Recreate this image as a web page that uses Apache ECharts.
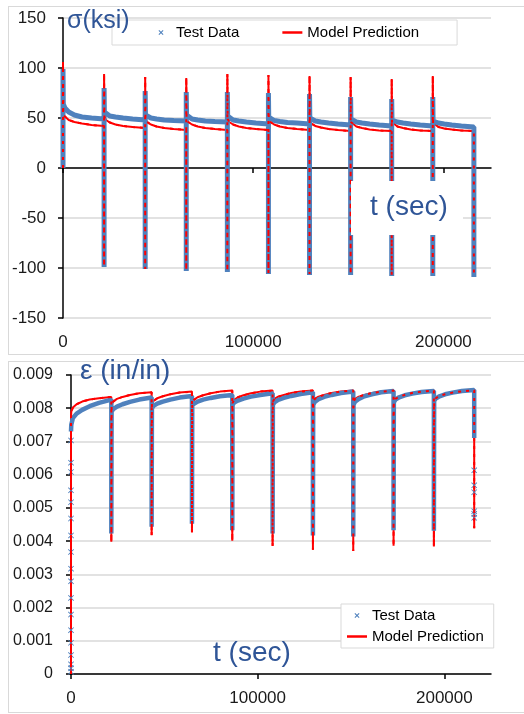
<!DOCTYPE html>
<html>
<head>
<meta charset="utf-8">
<script src="https://cdn.jsdelivr.net/npm/echarts@6.0.0/dist/echarts.min.js"></script>
<style>
  html, body { margin: 0; padding: 0; background: #fff; }
  .frame { position: absolute; border: 1px solid #d9d9d9; }
  #chart { position: absolute; left: 0; top: 0; width: 524px; height: 714px; }
</style>
</head>
<body>
<div class="frame" style="left:8px; top:6px; width:530px; height:347px;"></div>
<div class="frame" style="left:8px; top:361px; width:530px; height:350px;"></div>
<div id="chart"></div>
<script>
// 循环时间点 (sec)，每 6 小时一个循环
const cycleTimes = [0, 21600, 43200, 64800, 86400, 108000, 129600, 151200, 172800, 194400, 216000]
// 每个保载段内读取的时间偏移 (sec)
const holdOffsets = [150, 1000, 3000, 6000, 10000, 15000, 21600]
const xTicks = [0, 100000, 200000]

// 应力 σ (ksi)
const stressModelPeak = [106, 94, 91, 90, 94, 93, 92, 91, 89, 92]
const stressModelMin = [-98, -101, -102, -103, -105, -106, -106, -107, -107, -108]
const stressModelHold = [
  [53, 51, 48, 46, 44.5, 43, 42],
  [51, 48, 45.5, 43.5, 42, 41, 40],
  [49, 46, 43.5, 41.5, 40, 39, 38],
  [49, 46, 43.5, 41.5, 40, 39, 38],
  [49, 46, 43.5, 41.5, 40, 39, 38],
  [49, 46, 43.5, 41.5, 40, 39, 38],
  [47, 44.5, 42, 40.5, 39, 38, 37],
  [46, 44, 41.5, 40, 38.5, 37.5, 37],
  [46, 44, 41.5, 40, 38.5, 37.5, 37],
  [45, 43, 41, 39.5, 38.5, 37.5, 37]
]
const stressTestPeak = [99, 80, 77, 76, 76, 75, 74, 71, 69, 71]
const stressTestMin = [-99, -101, -103, -104, -106, -107, -107, -108, -108, -109]
const stressTestHold = [
  [64, 60, 56, 53, 51, 50, 49],
  [56, 54, 52, 51, 50, 49, 48],
  [53, 52, 50, 49, 48, 47.5, 47],
  [53, 51, 49, 48, 47, 46.5, 46],
  [52, 50, 48, 47, 46, 45, 44],
  [51, 49, 47.5, 46.5, 45.5, 45, 44],
  [50, 48.5, 47, 46, 45, 44, 43],
  [49, 47, 46, 45, 44, 43, 42],
  [48, 47, 46, 45, 44, 43, 42],
  [47, 46, 45, 44, 43, 42, 41]
]

// 应变 ε (in/in)
const strainModelLoadTop = 0.0077
const strainModelMin = [0.00398, 0.00418, 0.00426, 0.00401, 0.00385, 0.00374, 0.0037, 0.00386, 0.00384, 0.00439]
const strainModelHold = [
  [0.0079, 0.00802, 0.00812, 0.0082, 0.00826, 0.0083, 0.00834],
  [0.00812, 0.0082, 0.00828, 0.00834, 0.0084, 0.00845, 0.00848],
  [0.00813, 0.00822, 0.0083, 0.00836, 0.00842, 0.00847, 0.0085],
  [0.00816, 0.00825, 0.00833, 0.00839, 0.00845, 0.0085, 0.00853],
  [0.00816, 0.00825, 0.00833, 0.00839, 0.00845, 0.0085, 0.00853],
  [0.0082, 0.00828, 0.00835, 0.0084, 0.00846, 0.0085, 0.00853],
  [0.0082, 0.00828, 0.00835, 0.0084, 0.00846, 0.0085, 0.00853],
  [0.0082, 0.00828, 0.00835, 0.0084, 0.00846, 0.0085, 0.00853],
  [0.0082, 0.00828, 0.00835, 0.0084, 0.00846, 0.0085, 0.00853],
  [0.00822, 0.0083, 0.00837, 0.00842, 0.00847, 0.00851, 0.00854]
]
const strainTestLoadTop = 0.0073
const strainTestEnd = 0.0071
const strainTestMin = [0.00423, 0.00443, 0.00452, 0.00433, 0.00423, 0.00417, 0.00414, 0.00433, 0.00431]
const strainTestHold = [
  [0.0075, 0.0077, 0.00784, 0.00795, 0.00806, 0.00816, 0.00826],
  [0.0079, 0.00797, 0.00805, 0.00812, 0.00819, 0.00826, 0.00832],
  [0.008, 0.00807, 0.00814, 0.0082, 0.00826, 0.00832, 0.00837],
  [0.0081, 0.00815, 0.0082, 0.00826, 0.00831, 0.00836, 0.0084],
  [0.0081, 0.00817, 0.00823, 0.00829, 0.00835, 0.0084, 0.00845],
  [0.0081, 0.00818, 0.00825, 0.00831, 0.00837, 0.00843, 0.00848],
  [0.0081, 0.00819, 0.00827, 0.00834, 0.0084, 0.00846, 0.0085],
  [0.0081, 0.0082, 0.00828, 0.00836, 0.00842, 0.00848, 0.00852],
  [0.00818, 0.00826, 0.00833, 0.00839, 0.00844, 0.00849, 0.00852],
  [0.00822, 0.00829, 0.00836, 0.00842, 0.00847, 0.00852, 0.00855]
]
// 加载/卸载时采样稀疏的测试点
const strainTestLoadPts = [0.00007, 0.00017, 0.00029, 0.00057, 0.00094, 0.00132, 0.00179, 0.00229, 0.00279,
  0.00317, 0.00367, 0.00417, 0.00468, 0.00517, 0.00553, 0.00608, 0.00636, 0.00703]
const strainTestUnloadPts = [0.0047, 0.00482, 0.0049, 0.00547, 0.00568, 0.00613]

const BLUE = '#4F81BD'
const RED = '#FF0000'
const TITLE = '#2F5597'
const FONT = 'Liberation Sans'
const CROSS = 'path://M0,1L1,0L5,4L9,0L10,1L6,5L10,9L9,10L5,6L1,10L0,9L4,5Z'
const CROSS_ICON = 'path://M0,0M40,28M15,10.5L16.5,9L20,12.5L23.5,9L25,10.5L21.5,14L25,17.5L23.5,19L20,15.5L16.5,19L15,17.5L18.5,14Z'
const LINE_ICON = 'path://M0,0M40,28M0,11.5L40,11.5L40,16.5L0,16.5Z'

// 应力曲线：从 0 加载到峰值，保载松弛，压缩到最小再回到峰值
function stressPath (peak, mins, hold) {
  const pts = [[0, 0]]
  for (let k = 0; k < 10; k++) {
    const t = cycleTimes[k]
    if (k > 0) pts.push([t, mins[k - 1]])
    pts.push([t, peak[k]])
    holdOffsets.forEach((o, i) => pts.push([t + o, hold[k][i]]))
  }
  pts.push([cycleTimes[10], mins[9]])
  return pts
}

// 应变曲线：保载蠕变，循环时下降到最小
function strainPath (start, mins, hold, end) {
  const pts = [[0, start]]
  for (let k = 0; k < 10; k++) {
    const t = cycleTimes[k]
    if (k > 0) pts.push([t, mins[k - 1]])
    holdOffsets.forEach((o, i) => pts.push([t + o, hold[k][i]]))
  }
  pts.push([cycleTimes[10], end])
  return pts
}

const stressModel = stressPath(stressModelPeak, stressModelMin, stressModelHold)
const stressTest = stressPath(stressTestPeak, stressTestMin, stressTestHold)
const strainModel = [[0, 0]].concat(strainPath(strainModelLoadTop, strainModelMin, strainModelHold, strainModelMin[9]))
const strainTest = strainPath(strainTestLoadTop, strainTestMin, strainTestHold, strainTestEnd)
const strainTestSparse = strainTestLoadPts.map(v => [0, v])
  .concat(strainTestUnloadPts.map(v => [cycleTimes[10], v]))

const chart = echarts.init(document.getElementById('chart'))

const labelStyle = { color: '#1a1a1a', fontFamily: FONT }
const axisLineStyle = { color: '#000', width: 1.5 }
const plainNum = v => String(v)
const legendData = [
  { name: 'Test Data', icon: CROSS_ICON, itemStyle: { color: BLUE, borderWidth: 0 } },
  { name: 'Model Prediction', icon: LINE_ICON, itemStyle: { color: RED, borderWidth: 0 } }
]

const option = {
  animation: false,
  textStyle: { fontFamily: FONT },
  grid: [
    { left: 63, top: 18, width: 428, height: 300, outerBoundsMode: 'none' },
    { left: 71, top: 375, width: 420, height: 299, outerBoundsMode: 'none' }
  ],
  xAxis: [
    { // 上图底部标签
      type: 'value', gridIndex: 0, min: 0, max: 225000, position: 'bottom',
      axisLine: { show: false, onZero: false },
      axisTick: { show: false },
      splitLine: { show: false },
      axisLabel: { ...labelStyle, fontSize: 17, margin: 16, customValues: xTicks, formatter: plainNum }
    },
    { // 上图 y=0 处的轴线
      type: 'value', gridIndex: 0, min: 0, max: 225000, position: 'bottom',
      axisLine: { show: true, onZero: true, lineStyle: axisLineStyle },
      axisTick: { show: true, length: 5, lineStyle: axisLineStyle, customValues: xTicks },
      splitLine: { show: false },
      axisLabel: { show: false }
    },
    {
      type: 'value', gridIndex: 1, min: 0, max: 225000, position: 'bottom',
      axisLine: { show: true, lineStyle: axisLineStyle },
      axisTick: { show: true, length: 5, lineStyle: axisLineStyle, customValues: xTicks },
      splitLine: { show: false },
      axisLabel: { ...labelStyle, fontSize: 17, margin: 16, customValues: xTicks, formatter: plainNum }
    }
  ],
  yAxis: [
    {
      type: 'value', gridIndex: 0, min: -150, max: 150, interval: 50,
      axisLine: { show: true, lineStyle: axisLineStyle },
      axisTick: { show: true, length: 5, lineStyle: axisLineStyle },
      splitLine: { lineStyle: { color: '#d9d9d9', width: 1.5 } },
      axisLabel: { ...labelStyle, fontSize: 17, margin: 17 }
    },
    {
      type: 'value', gridIndex: 1, min: 0, max: 0.009, interval: 0.001,
      axisLine: { show: true, lineStyle: axisLineStyle },
      axisTick: { show: true, length: 5, lineStyle: axisLineStyle },
      splitLine: { lineStyle: { color: '#d9d9d9', width: 1.5 } },
      axisLabel: { ...labelStyle, fontSize: 16, margin: 18, formatter: v => (v === 0 ? '0' : v.toFixed(3)) }
    }
  ],
  legend: [
    {
      data: legendData, selectedMode: false, orient: 'horizontal',
      left: 112, top: 20, itemWidth: 20, itemHeight: 14, itemGap: 43,
      padding: [5, 38, 5, 39], borderColor: '#d9d9d9', borderWidth: 1, backgroundColor: '#fff',
      textStyle: { fontSize: 15, color: '#000', fontFamily: FONT }
    },
    {
      data: legendData, selectedMode: false, orient: 'vertical',
      left: 341, top: 604, itemWidth: 20, itemHeight: 14, itemGap: 6,
      padding: [4, 10, 4, 6], borderColor: '#d9d9d9', borderWidth: 1, backgroundColor: '#fff',
      textStyle: { fontSize: 15, color: '#000', fontFamily: FONT }
    }
  ],
  series: [
    { // 上图：模型
      name: 'Model Prediction', type: 'line', xAxisIndex: 0, yAxisIndex: 0,
      data: stressModel, symbol: 'none', z: 2,
      lineStyle: { color: RED, width: 2, join: 'bevel' }, itemStyle: { color: RED }
    },
    { // 上图：测试
      name: 'Test Data', type: 'line', xAxisIndex: 0, yAxisIndex: 0,
      data: stressTest, symbol: 'none', z: 3,
      lineStyle: { color: BLUE, width: 5, join: 'bevel' }, itemStyle: { color: BLUE }
    },
    { // 上图：模型线透过测试点的虚线效果
      name: 'Model Prediction', type: 'line', xAxisIndex: 0, yAxisIndex: 0,
      data: stressModel, symbol: 'none', z: 4, silent: true,
      lineStyle: { color: RED, width: 2, type: [3, 5], join: 'bevel' }, itemStyle: { color: RED }
    },
    { // 下图：模型
      name: 'Model Prediction', type: 'line', xAxisIndex: 2, yAxisIndex: 1,
      data: strainModel, symbol: 'none', z: 2,
      lineStyle: { color: RED, width: 2, join: 'bevel' }, itemStyle: { color: RED }
    },
    { // 下图：测试
      name: 'Test Data', type: 'line', xAxisIndex: 2, yAxisIndex: 1,
      data: strainTest, symbol: 'none', z: 3,
      lineStyle: { color: BLUE, width: 4.5, join: 'bevel' }, itemStyle: { color: BLUE }
    },
    { // 下图：稀疏测试点
      name: 'Test Data', type: 'scatter', xAxisIndex: 2, yAxisIndex: 1,
      data: strainTestSparse, symbol: CROSS, symbolSize: 6, z: 3,
      itemStyle: { color: BLUE, opacity: 1 }
    },
    {
      name: 'Model Prediction', type: 'line', xAxisIndex: 2, yAxisIndex: 1,
      data: strainModel, symbol: 'none', z: 4, silent: true,
      lineStyle: { color: RED, width: 2, type: [3, 5], join: 'bevel' }, itemStyle: { color: RED }
    }
  ],
  graphic: [
    {
      type: 'text', z: 100, left: 67, top: 9,
      style: { text: 'σ(ksi)', fontSize: 25, fill: TITLE, fontFamily: FONT }
    },
    {
      type: 'rect', z: 99, shape: { x: 351, y: 181, width: 112, height: 54 },
      style: { fill: '#fff' }
    },
    {
      type: 'text', z: 100, left: 370, top: 193,
      style: { text: 't (sec)', fontSize: 28, fill: TITLE, fontFamily: FONT }
    },
    {
      type: 'text', z: 100, left: 80, top: 357,
      style: { text: 'ε (in/in)', fontSize: 28, fill: TITLE, fontFamily: FONT }
    },
    {
      type: 'text', z: 100, left: 213, top: 639,
      style: { text: 't (sec)', fontSize: 28, fill: TITLE, fontFamily: FONT }
    }
  ]
}

chart.setOption(option)
</script>
</body>
</html>
